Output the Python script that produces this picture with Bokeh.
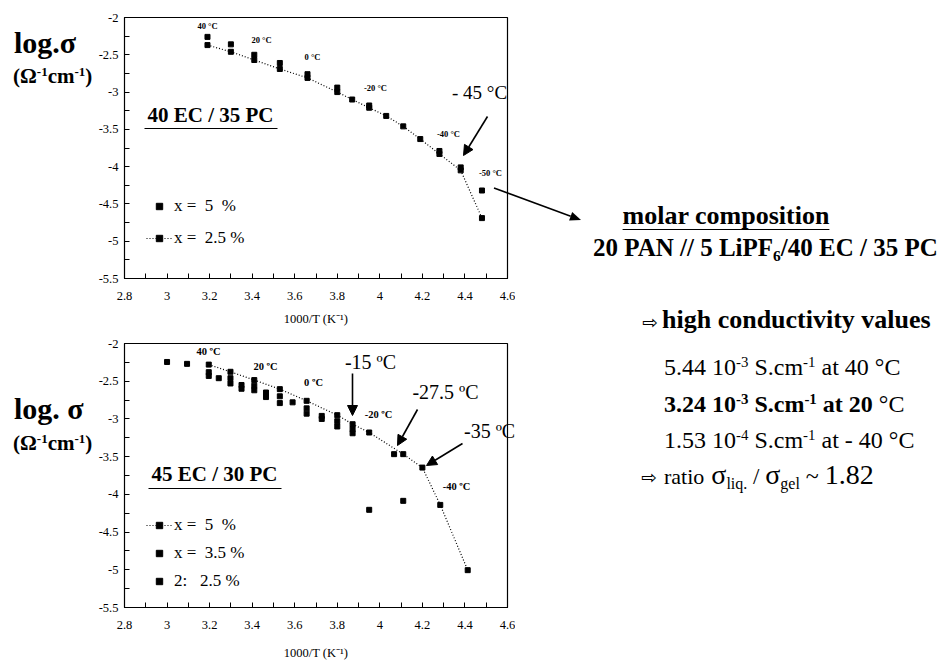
from bokeh.plotting import figure
from bokeh.models import (Label, Arrow, NormalHead, FixedTicker, Range1d,
                          Legend, LegendItem, Div)
from bokeh.layouts import column, row
from bokeh.embed import file_html
from bokeh.resources import INLINE

# ---------------- data ----------------
x_ticks = [2.8, 3.0, 3.2, 3.4, 3.6, 3.8, 4.0, 4.2, 4.4, 4.6]
x_tick_labels = ["2.8", "3", "3.2", "3.4", "3.6", "3.8", "4", "4.2", "4.4", "4.6"]
y_ticks = [-5.5, -5.0, -4.5, -4.0, -3.5, -3.0, -2.5, -2.0]
y_tick_labels = ["-5.5", "-5", "-4.5", "-4", "-3.5", "-3", "-2.5", "-2"]

# top panel : 40 EC / 35 PC
top_x_5 = [3.19, 3.30, 3.41, 3.53, 3.66, 3.80, 3.95, 4.28, 4.38, 4.48]
top_y_5 = [-2.26, -2.36, -2.50, -2.61, -2.76, -2.94, -3.18, -3.79, -4.01, -4.32]
top_x_25 = [3.19, 3.30, 3.41, 3.53, 3.66, 3.80, 3.87, 3.95, 4.03, 4.11, 4.19, 4.28, 4.38, 4.48]
top_y_25 = [-2.37, -2.46, -2.57, -2.69, -2.81, -3.00, -3.10, -3.21, -3.32, -3.46, -3.63, -3.83, -4.05, -4.69]

# bottom panel : 45 EC / 30 PC
bot_x_5 = [3.196, 3.298, 3.41, 3.53, 3.656, 3.80, 3.872, 3.95, 4.11, 4.20, 4.284, 4.413]
bot_y_5 = [-2.28, -2.375, -2.485, -2.605, -2.76, -2.95, -3.07, -3.18, -3.467, -3.645, -4.14, -5.005]
bot_x_35 = [3.00, 3.094, 3.196, 3.298, 3.35, 3.41, 3.465, 3.53, 3.656, 3.727, 3.80, 3.872, 3.95, 4.11]
bot_y_35 = [-2.245, -2.27, -2.38, -2.46, -2.55, -2.56, -2.65, -2.70, -2.86, -2.96, -3.03, -3.135, -4.205, -4.086]
bot_x_25 = [3.196, 3.243, 3.298, 3.35, 3.41, 3.465, 3.53, 3.59, 3.656, 3.727, 3.80, 3.872, 4.067]
bot_y_25 = [-2.43, -2.46, -2.53, -2.60, -2.62, -2.71, -2.79, -2.78, -2.93, -3.00, -3.10, -3.19, -3.467]

SERIF = "Liberation Serif"
X0, X1, Y0, Y1 = 2.8, 4.6, -5.5, -2.0
FW = 383
LEFT = 124
RIGHT = 8
PLOT_W = LEFT + FW + RIGHT
DIV_W = 949 - PLOT_W


def make_fig(frame_h, top_border, bottom_border, title_standoff):
    p = figure(frame_width=FW, frame_height=frame_h,
               min_border_left=LEFT, min_border_right=RIGHT,
               min_border_top=top_border, min_border_bottom=bottom_border,
               x_range=Range1d(X0, X1), y_range=Range1d(Y0, Y1),
               output_backend="svg", toolbar_location=None)
    p.grid.visible = False
    p.outline_line_color = "black"
    p.outline_line_width = 1.2
    p.outline_line_alpha = 1
    p.background_fill_color = "white"
    p.border_fill_color = None
    minor_x = [round(t + 0.1, 2) for t in x_ticks[:-1]]
    minor_y = [t + 0.25 for t in y_ticks[:-1]]
    p.xaxis.ticker = FixedTicker(ticks=x_ticks, minor_ticks=minor_x)
    p.yaxis.ticker = FixedTicker(ticks=y_ticks, minor_ticks=minor_y)
    p.xaxis.major_label_overrides = dict(zip(x_ticks, x_tick_labels))
    p.yaxis.major_label_overrides = dict(zip(y_ticks, y_tick_labels))
    for ax in (p.xaxis[0], p.yaxis[0]):
        ax.major_tick_in = 5
        ax.major_tick_out = 0
        ax.minor_tick_in = 5
        ax.minor_tick_out = 0
        ax.axis_line_color = "black"
        ax.major_tick_line_color = "black"
        ax.minor_tick_line_color = "black"
        ax.major_label_text_font = SERIF
        ax.major_label_text_font_size = "12.5px"
        ax.major_label_text_color = "black"
    p.xaxis.major_label_standoff = 13
    p.yaxis.major_label_standoff = 6
    p.xaxis.axis_label = "1000/T (K\u207b\u00b9)"
    p.xaxis.axis_label_text_font = SERIF
    p.xaxis.axis_label_text_font_style = "normal"
    p.xaxis.axis_label_text_font_size = "12.5px"
    p.xaxis.axis_label_text_color = "black"
    p.xaxis.axis_label_standoff = title_standoff
    return p


def arr(p, x0, y0, x1, y1, head=True, width=1.6):
    p.add_layout(Arrow(end=NormalHead(size=10, fill_color="black", line_color="black") if head else None,
                       x_start=x0, y_start=y0, x_end=x1, y_end=y1,
                       line_color="black", line_width=width))


ppx = FW / (X1 - X0)


def tx(px):
    return X0 + (px - LEFT) / ppx


def make_lab(ty):
    def lab(p, px, py, text, size, bold=False, align="center"):
        # empirical baseline correction of Label rendering: ~0.4 * font size
        p.add_layout(Label(x=tx(px), y=ty(py - 0.4 * size), text=text, text_font=SERIF,
                           text_font_size=f"{size}px",
                           text_font_style="bold" if bold else "normal",
                           text_align=align, text_baseline="alphabetic",
                           text_color="black"))
    return lab


# ---------------- top figure ----------------
TOP_H = 261
TOP_Y = 17
top = make_fig(TOP_H, TOP_Y, 60, 9)


def ty_t(py):
    return Y1 - (py - TOP_Y) / (TOP_H / (Y1 - Y0))


lab_t = make_lab(ty_t)

l25 = top.line(top_x_25, top_y_25, line_color="black", line_width=1.2, line_dash="1 2")
s25 = top.scatter(top_x_25, top_y_25, marker="square", size=5, color="black")
s5 = top.scatter(top_x_5, top_y_5, marker="square", size=5, color="black")

leg_t = Legend(items=[LegendItem(label="x =  5  %", renderers=[s5]),
                      LegendItem(label="x =  2.5 %", renderers=[l25, s25])],
               location=(22, 30), background_fill_alpha=0, border_line_alpha=0,
               label_text_font=SERIF, label_text_font_size="17px", label_text_color="black",
               glyph_width=26, glyph_height=16, label_standoff=2, spacing=12,
               padding=0, margin=0)
top.add_layout(leg_t)

for txt, px, py in [("40 \u00b0C", 207, 29), ("20 \u00b0C", 261, 43), ("0 \u00b0C", 312, 60),
                    ("-20 \u00b0C", 375, 91), ("-40 \u00b0C", 448, 137), ("-50 \u00b0C", 490, 176)]:
    lab_t(top, px, py, txt, 8.5, bold=True)
lab_t(top, 479, 100, "- 45 \u00b0C", 19)
arr(top, tx(487), ty_t(116), tx(463), ty_t(155))
lab_t(top, 210, 123, "40 EC / 35 PC", 21, bold=True)
arr(top, tx(144), ty_t(128), tx(277), ty_t(128), head=False, width=1)

# ---------------- bottom figure ----------------
BOT_H = 264
BOT_Y = 343
bot = make_fig(BOT_H, BOT_Y - 338, 55, 14)


def ty_b(py):
    return Y1 - (py - BOT_Y) / (BOT_H / (Y1 - Y0))


lab_b = make_lab(ty_b)

lb5 = bot.line(bot_x_5, bot_y_5, line_color="black", line_width=1.2, line_dash="1 2")
sb5 = bot.scatter(bot_x_5, bot_y_5, marker="square", size=5, color="black")
sb35 = bot.scatter(bot_x_35, bot_y_35, marker="square", size=5, color="black")
sb25 = bot.scatter(bot_x_25, bot_y_25, marker="square", size=5, color="black")

leg_b = Legend(items=[LegendItem(label="x =  5  %", renderers=[lb5, sb5]),
                      LegendItem(label="x =  3.5 %", renderers=[sb35]),
                      LegendItem(label="2:   2.5 %", renderers=[sb25])],
               location=(22, 16), background_fill_alpha=0, border_line_alpha=0,
               label_text_font=SERIF, label_text_font_size="17px", label_text_color="black",
               glyph_width=26, glyph_height=16, label_standoff=2, spacing=8,
               padding=0, margin=0)
bot.add_layout(leg_b)

for txt, px, py in [("40 \u00baC", 208, 355), ("20 \u00baC", 265, 370), ("0 \u00baC", 313, 386),
                    ("-20 \u00baC", 378, 418), ("-40 \u00baC", 456, 490)]:
    lab_b(bot, px, py, txt, 10.5, bold=True)
lab_b(bot, 370, 369, "-15 \u00baC", 20)
arr(bot, tx(352), ty_b(373), tx(352), ty_b(415))
lab_b(bot, 445, 399, "-27.5 \u00baC", 20)
arr(bot, tx(417), ty_b(409), tx(397), ty_b(445))
arr(bot, tx(462), ty_b(443), tx(426), ty_b(465))
lab_b(bot, 214, 482, "45 EC / 30 PC", 21, bold=True)
arr(bot, tx(148), ty_b(488), tx(281), ty_b(488), head=False, width=1)

# ---------------- text outside the plot frames (HTML overlay) ----------------
FONT_CSS = "font-family:'Liberation Serif','Times New Roman',serif;color:black;"
OFF_X, OFF_Y = -4, -5   # measured offset of the Div content box


def sup(t):
    return f'<span style="font-size:0.62em;vertical-align:0.55em;line-height:0">{t}</span>'


def sub(t, size=None):
    fs = f"{size}px" if size else "0.62em"
    return f'<span style="font-size:{fs};vertical-align:-0.3em;line-height:0">{t}</span>'


def place(px, baseline, size, inner, bold=False, extra="", center=False):
    topy = baseline - 0.8375 * size
    w = "bold" if bold else "normal"
    if center:
        pos = f"left:{px - PLOT_W - 250}px;width:500px;text-align:center;"
    else:
        pos = f"left:{px - PLOT_W}px;"
    return (f'<div style="position:absolute;{pos}top:{topy:.1f}px;'
            f'font-size:{size}px;line-height:1;white-space:nowrap;font-weight:{w};{FONT_CSS}{extra}">'
            f'{inner}</div>')


ICON = '<span style="font-family:\'DejaVu Sans\';font-weight:normal;line-height:0">\u21e8</span>'

pieces = [
    place(13, 53, 30, "log.\u03c3", bold=True),
    place(12, 84, 21, "(\u03a9" + sup("-1") + "cm" + sup("-1") + ")", bold=True),
    place(13, 419, 30, "log. \u03c3", bold=True),
    place(12, 451, 21, "(\u03a9" + sup("-1") + "cm" + sup("-1") + ")", bold=True),
    place(463, 438, 20, "-35 \u00baC"),
    place(725, 225, 26, '<span style="text-decoration:underline;text-decoration-thickness:1px;'
          'text-underline-offset:5px">molar composition</span>', bold=True, center=True),
    place(592, 256, 25, "20 PAN // 5 LiPF" + sub("6") + "/40 EC / 35 PC", bold=True),
    place(641, 329, 19, ICON),
    place(661, 329, 26, "high conductivity values", bold=True),
    place(663, 375, 24, "5.44 10" + sup("-3") + " S.cm" + sup("-1") + " at 40 \u00b0C"),
    place(663, 412, 24, "<b>3.24 10" + sup("-3") + " S.cm" + sup("-1") + " at 20</b> \u00b0C"),
    place(663, 448, 24, "1.53 10" + sup("-4") + " S.cm" + sup("-1") + " at - 40 \u00b0C"),
    place(640, 484, 19, ICON),
    place(663, 484, 28,
          '<span style="font-size:22px;line-height:0">ratio</span> '
          + '\u03c3' + sub("liq.", 16)
          + '<span style="font-size:23px;line-height:0"> / </span>'
          + '\u03c3' + sub("gel", 16)
          + '<span style="font-size:24px;line-height:0"> ~ </span>1.82'),
]

# arrow from the -50 degC point of the upper plot to the composition text
ax0, ay0, ax1, ay1 = 493, 188, 580, 220
dx, dy = ax1 - ax0, ay1 - ay0
ln = (dx * dx + dy * dy) ** 0.5
ux, uy = dx / ln, dy / ln
bx, by = ax1 - 11 * ux, ay1 - 11 * uy
h1 = (bx - 4.5 * uy, by + 4.5 * ux)
h2 = (bx + 4.5 * uy, by - 4.5 * ux)
svg = (f'<svg style="position:absolute;left:{-PLOT_W}px;top:0px;overflow:visible;pointer-events:none" '
       f'width="949" height="662">'
       f'<line x1="{ax0}" y1="{ay0}" x2="{bx:.1f}" y2="{by:.1f}" stroke="black" stroke-width="1.6"/>'
       f'<polygon points="{ax1},{ay1} {h1[0]:.1f},{h1[1]:.1f} {h2[0]:.1f},{h2[1]:.1f}" fill="black"/>'
       f'</svg>')

html = (f'<div style="position:relative;left:{OFF_X}px;top:{OFF_Y}px;width:{DIV_W}px;height:662px;overflow:visible">'
        + svg + "".join(pieces) + '</div>')
notes = Div(text=html, width=DIV_W, height=662, styles={"overflow": "visible"})

layout = row(column(top, bot, spacing=0), notes, spacing=0)
open("out.html", "w").write(file_html(layout, INLINE))
